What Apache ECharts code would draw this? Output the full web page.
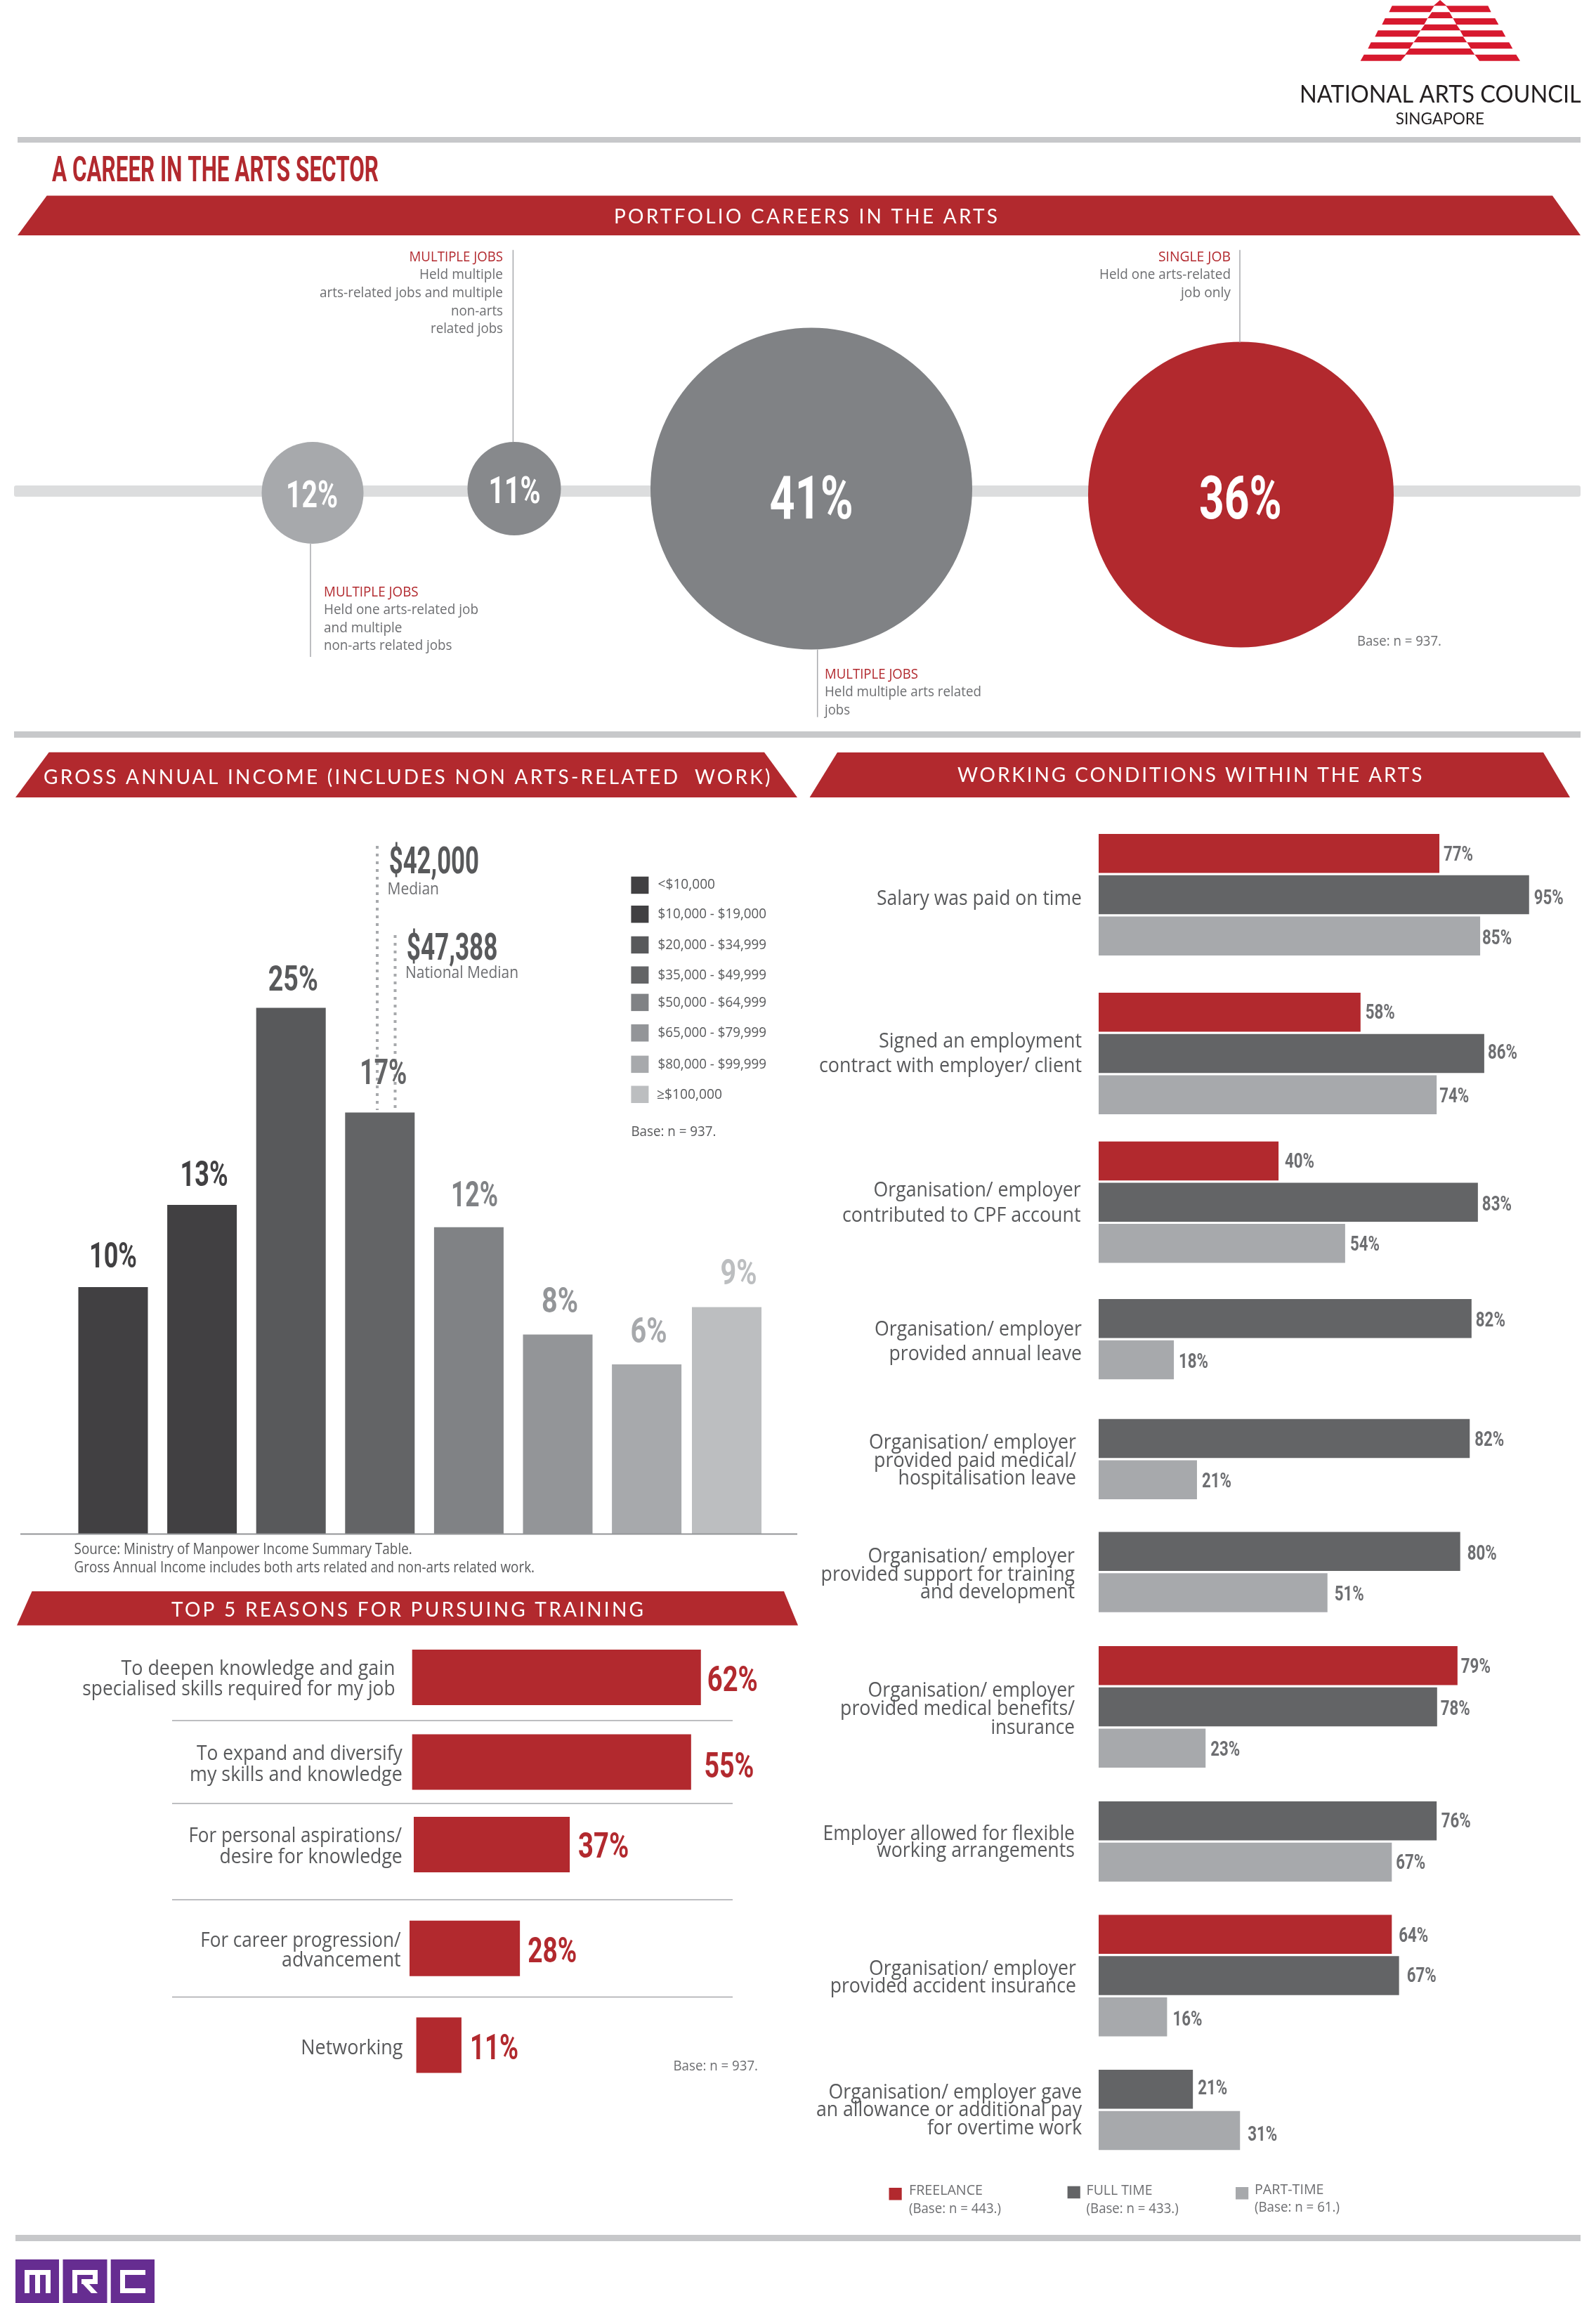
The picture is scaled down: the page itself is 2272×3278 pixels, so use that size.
<!DOCTYPE html>
<html><head><meta charset="utf-8">
<script src="https://cdn.jsdelivr.net/npm/echarts@6/dist/echarts.min.js"></script>
<style>html,body{margin:0;padding:0;background:#fff}#c{width:2272px;height:3278px}</style>
</head><body><div id="c"></div>
<script>
// ---------- DATA ----------
// Bar lengths are read off the picture (the original artwork is not strictly proportional);
// the printed percentages are kept separately.
const portfolioShares = [12, 11, 41, 36];
const incomeBands = ['<$10,000','$10,000 - $19,000','$20,000 - $34,999','$35,000 - $49,999','$50,000 - $64,999','$65,000 - $79,999','$80,000 - $99,999','≥$100,000'];
const incomeDrawn = [9.9, 13.2, 21.1, 16.9, 12.3, 8.0, 6.8, 9.1];
const incomePrinted = [10, 13, 25, 17, 12, 8, 6, 9];
const reasonNames = ['To deepen knowledge and gain\nspecialised skills required for my job','To expand and diversify\nmy skills and knowledge','For personal aspirations/\ndesire for knowledge','For career progression/\nadvancement','Networking'];
const reasonDrawn = [62, 59.9, 33.5, 23.7, 9.7];
const reasonPrinted = [62, 55, 37, 28, 11];
const conditionNames = ['Salary was paid on time','Signed an employment\ncontract with employer/ client','Organisation/ employer\ncontributed to CPF account','Organisation/ employer\nprovided annual leave','Organisation/ employer\nprovided paid medical/\nhospitalisation leave','Organisation/ employer\nprovided support for training\nand development','Organisation/ employer\nprovided medical benefits/\ninsurance','Employer allowed for flexible\nworking arrangements','Organisation/ employer\nprovided accident insurance','Organisation/ employer gave\nan allowance or additional pay\nfor overtime work'];
const freelanceDrawn = [75.2,57.8,39.7,null,null,null,79.2,null,64.7,null];
const fullTimeDrawn  = [95,85.1,83.7,82.3,81.9,79.8,74.7,74.6,66.3,20.8];
const partTimeDrawn  = [84.2,74.6,54.4,16.6,21.7,50.5,23.6,64.7,15.1,31.2];
const freelancePrinted = [77,58,40,null,null,null,79,null,64,null];
const fullTimePrinted  = [95,86,83,82,82,80,78,76,67,21];
const partTimePrinted  = [85,74,54,18,21,51,23,67,16,31];
const workTypes = ['FREELANCE','FULL TIME','PART-TIME'];

// ---------- STYLE / LAYOUT ----------
const RED='#b2292e', DARK='#636466', LIGHT='#a7a9ac', TXT='#58595b', TXT2='#6d6e71', RULE='#c7c8ca';
const NARROW='"Liberation Sans Narrow","Roboto","Liberation Sans",sans-serif';
const BODY='"Open Sans","Noto Sans",sans-serif';
const HEAD='"Lato","Open Sans",sans-serif';
const incomeColors=['#414042','#414042','#58595b','#636466','#808285','#939598','#a7a9ac','#bcbec0'];
const workColors=[RED,DARK,LIGHT];

const bubbleX=[445,732,1155,1766.5], bubbleY=[701.5,695.5,695.5,704], bubbleD=[145,133,458,435];
const bubbleColors=['#a7a9ac','#87898c','#808285',RED];
const bubbleLabel=[[407,481,703.5,54],[695.6,769.6,697,54],[1095.6,1214.5,707.5,86],[1707,1824.6,707.5,86]];

const incomeDx=[0,3,3,5,8,3,3,17], incomeDy=[-45.5,-44.6,-42.4,-58,-47,-49,-49,-50], incomeW=[68,68,71,67,67,52,52,52];
const reasonTop=[2348,2468.4,2586,2733.8,2871.5], reasonLeft=[586.7,586.7,589,583,592.6];
const reasonDx=[9,18.6,12,11,12], reasonDy=[2,5,1,2.5,2], reasonW=[72,71,72,70,69];
const reasonLines=[[[172.4,562.5,2374.4],[117.3,562.5,2403.5]],[[280,572.8,2495.5],[270,572.8,2525]],[[268.4,572,2612.7],[312.4,572.8,2642.5]],[[285.3,570.6,2761],[401,570.6,2789.5]],[[428.3,573.5,2914]]];
const groupTop=[1187,1413,1624.7,1849,2019.7,2180.6,2343,2564,2725.6,2946];
const groupLines=[
 [[1248,1540,1278]],
 [[1251,1540,1481.6],[1166,1540,1516.7]],
 [[1243.6,1538.6,1693.5],[1199,1538.6,1729]],
 [[1245,1540,1891],[1265.5,1540,1926]],
 [[1237,1532,2052],[1244,1532,2078],[1278.6,1532,2103]],
 [[1235.6,1530,2214],[1168.6,1530,2240],[1310,1530,2265.5]],
 [[1235.6,1530,2405.6],[1196,1530,2431],[1410.4,1530,2458]],
 [[1171.5,1530,2609],[1248,1530,2633.5]],
 [[1237,1532,2801],[1181.7,1532,2826.5]],
 [[1179.5,1540,2977.4],[1162,1540,3002],[1320,1540,3028]]];
const freeOff=[[6,0],[7,-1],[9,-1],null,null,null,[5,0],null,[10,0],null];
const fullOff=[[7,3],[5,-2.5],[6,1],[6,1],[7,0],[10,1],[5,1.5],[6.5,-1.5],[11,-1.5],[7,-3]];
const partOff=[[3,1],[4,0],[7,0],[7,1],[7,0],[10,0],[7,0],[6,-1],[8,2],[11,4.5]];

// ---------- TEXT HELPERS ----------
const mctx=document.createElement('canvas').getContext('2d');
const natural=(s,font)=>{mctx.font=font;return mctx.measureText(s).width;};
function T(str,l,r,yc,size,color,family,weight,z){
  const fam=family||BODY;
  const font=`${weight||400} ${size}px ${fam}`;
  const shift=size*(fam===NARROW?0.1:0.05);
  return {type:'text',x:l,y:yc+shift,scaleX:(r-l)/natural(str,font),z:z||20,silent:true,
    style:{text:str,fill:color||TXT,font,align:'left',verticalAlign:'middle',textAlign:'left',textVerticalAlign:'middle'}};
}
// letter-spaced banner titles: real text, canvas letterSpacing applied when it is painted
const spacing=new Map();
const _fill=CanvasRenderingContext2D.prototype.fillText;
CanvasRenderingContext2D.prototype.fillText=function(t,x,y,m){
  const sp=spacing.get(t);
  if(sp!==undefined){this.letterSpacing=sp+'px';}
  m===undefined?_fill.call(this,t,x,y):_fill.call(this,t,x,y,m);
  if(sp!==undefined){this.letterSpacing='0px';}
};
function H(str,l,r,yc,size){
  const font=`400 ${size}px ${HEAD}`;
  spacing.set(str,((r-l)-natural(str,font))/(str.length-1));
  return {type:'text',x:l,y:yc+0.5,z:20,silent:true,style:{text:str,fill:'#fff',font,align:'left',verticalAlign:'middle',textAlign:'left',textVerticalAlign:'middle'}};
}
const poly=(pts,fill,z)=>({type:'polygon',z:z||1,silent:true,shape:{points:pts},style:{fill}});
const rect=(x,y,w,h,fill,z,r)=>({type:'rect',z:z||1,silent:true,shape:{x,y,width:w,height:h,r:r||0},style:{fill}});
const line=(x1,y1,x2,y2,stroke,w,dash)=>({type:'line',z:3,silent:true,shape:{x1,y1,x2,y2},style:{stroke,lineWidth:w||1.5,lineDash:dash||null}});

// ---------- CHART ----------
const grids=[],xAxes=[],yAxes=[],series=[];
function addHorizontal(left,top,pxPerUnit,cats,rowH,barH,vals,colors,name){
  const g=grids.length;
  grids.push({left,top,width:pxPerUnit*100,height:rowH*cats.length,containLabel:false});
  xAxes.push({gridIndex:g,type:'value',min:0,max:100,show:false});
  yAxes.push({gridIndex:g,type:'category',data:cats,inverse:true,show:false});
  series.push({type:'bar',name,xAxisIndex:g,yAxisIndex:g,barWidth:barH,animation:false,silent:true,
    data:vals.map((v,i)=>({value:v,itemStyle:{color:colors[i]}}))});
  return g;
}
function addVertical(left,width,top,height,max,cats,barW,vals,colors,name){
  const g=grids.length;
  grids.push({left,top,width,height,containLabel:false});
  xAxes.push({gridIndex:g,type:'category',data:cats,show:false});
  yAxes.push({gridIndex:g,type:'value',min:0,max,show:false});
  series.push({type:'bar',name,xAxisIndex:g,yAxisIndex:g,barWidth:barW,animation:false,silent:true,
    data:vals.map((v,i)=>({value:v,itemStyle:{color:colors[i]}}))});
  return g;
}
// bubbles
const gB=grids.length;
grids.push({left:0,top:0,width:2272,height:3278});
xAxes.push({gridIndex:gB,type:'value',min:0,max:2272,show:false});
yAxes.push({gridIndex:gB,type:'value',min:0,max:3278,inverse:true,show:false});
series.push({type:'scatter',name:'Portfolio careers',xAxisIndex:gB,yAxisIndex:gB,animation:false,silent:true,
  data:portfolioShares.map((v,i)=>({value:[bubbleX[i],bubbleY[i],v],symbolSize:bubbleD[i],itemStyle:{color:bubbleColors[i],opacity:1}}))});
// income: seven evenly spaced bars plus the last one, set slightly closer
const SLOT=126.6, INC_TOP=1296, INC_H=887.5;
const gI1=addVertical(97.7,SLOT*7,INC_TOP,INC_H,25,incomeBands.slice(0,7),99,incomeDrawn.slice(0,7),incomeColors.slice(0,7),'Income');
const gI2=addVertical(971.2,SLOT,INC_TOP,INC_H,25,incomeBands.slice(7),99,incomeDrawn.slice(7),incomeColors.slice(7),'Income (top band)');
// reasons
const gR=reasonNames.map((n,i)=>addHorizontal(reasonLeft[i],reasonTop[i],6.63,[n],79,79,[reasonDrawn[i]],[RED],n));
// working conditions
const ROW=58.7,BAR=55.5;
const gW=conditionNames.map((n,i)=>{
  const src=[freelanceDrawn[i],fullTimeDrawn[i],partTimeDrawn[i]];
  const idx=[0,1,2].filter(k=>src[k]!==null);
  return {g:addHorizontal(1564,groupTop[i]-(ROW-BAR)/2,6.45,idx.map(k=>workTypes[k]),ROW,BAR,idx.map(k=>src[k]),idx.map(k=>workColors[k]),n),idx};
});

const chart=echarts.init(document.getElementById('c'),null,{renderer:'canvas'});
chart.setOption({backgroundColor:'#fff',animation:false,tooltip:{show:false},legend:{show:false},grid:grids,xAxis:xAxes,yAxis:yAxes,series});

// ---------- ANNOTATIONS ----------
const el=[];
// NAC logo (source units: 3x crop)
const LG='#d7192e', lg=pts=>poly(pts.map(p=>[1800+p[0]/3,p[1]/3]),LG,2);
[[[545,25],[725,25],[708,52],[532,52]],[[775,25],[955,25],[968,52],[795,52]],[[722,25],[750,0],[778,25]],
 [[515,78],[697,78],[682,105],[502,105]],[[805,78],[985,78],[1000,105],[820,105]],[[697,78],[715,52],[790,52],[805,78]],
 [[485,130],[667,130],[650,157],[472,157]],[[835,130],[1015,130],[1030,157],[850,157]],[[667,130],[685,104],[820,104],[837,130]],
 [[455,181],[637,181],[620,208],[442,208]],[[865,181],[1045,181],[1060,208],[882,208]],[[637,181],[655,156],[848,156],[865,181]],
 [[425,233],[605,233],[582,260],[410,260]],[[898,233],[1075,233],[1092,260],[918,260]],[[600,233],[620,207],[880,207],[898,233]]
].forEach(p=>el.push(lg(p)));
el.push(T('NATIONAL ARTS COUNCIL',1850,2250.7,132.7,35,'#231f20',HEAD));
el.push(T('SINGAPORE',1986.7,2113,168,23,'#231f20',HEAD));
// rules
el.push(rect(25,195,2225,8,RULE),rect(20,1041,2230,9,RULE),rect(22,3181,2228,9,RULE));
el.push(T('A CAREER IN THE ARTS SECTOR',74,539,240,50,RED,NARROW,700));
// banners
el.push(poly([[66.7,278.5],[2210,278.5],[2250,335],[25,335]],RED));
el.push(H('PORTFOLIO CAREERS IN THE ARTS',874,1420,308.7,28));
el.push(poly([[69.7,1070.7],[1088,1070.7],[1135,1135],[22,1135]],RED));
el.push(H('GROSS ANNUAL INCOME (INCLUDES NON ARTS-RELATED  WORK)',62,1096.5,1106,28));
el.push(poly([[1192,1071],[2197,1071],[2235,1135],[1152.6,1135]],RED));
el.push(H('WORKING CONDITIONS WITHIN THE ARTS',1363,2024.4,1103.5,28));
el.push(poly([[45.5,2265],[1116,2265],[1136,2313.5],[24,2313.5]],RED));
el.push(H('TOP 5 REASONS FOR PURSUING TRAINING',244,916,2291,28));
// timeline + leaders
el.push(rect(20,691,2230,16,'#dcddde',1,3));
el.push(line(730.4,355.7,730.4,629,LIGHT),line(1765,355.7,1765,487.5,LIGHT),line(442,774,442,935,LIGHT),line(1163.7,924.6,1163.7,1020.7,LIGHT));
portfolioShares.forEach((v,i)=>{const b=bubbleLabel[i];
  el.push(T(v+'%',b[0],b[1],b[2],b[3],'#fff',NARROW,700,30));});
[['MULTIPLE JOBS',582.6,716,364.8,RED],['Held multiple',597,716,390.7],['arts-related jobs and multiple',455,716,416],['non-arts',642,716,442],['related jobs',613,716,467],
 ['SINGLE JOB',1649,1752,364.8,RED],['Held one arts-related',1565,1752,390.7],['job only',1681,1752,416],
 ['MULTIPLE JOBS',461,595.6,841.8,RED],['Held one arts-related job',461,681,867],['and multiple',461,572.5,893],['non-arts related jobs',461,643.5,918],
 ['MULTIPLE JOBS',1174,1307,959,RED],['Held multiple arts related',1174,1397,984],['jobs',1174,1210,1010],
 ['Base: n = 937.',1932,2052,912]
].forEach(t=>el.push(T(t[0],t[1],t[2],t[3],20,t[4]||TXT2)));
// income annotations
el.push(line(537,1204,537,1580,LIGHT,4,[4,7]),line(562.5,1331,562.5,1580,LIGHT,4,[4,7]));
el.push(T('$42,000',553.7,682,1224.5,54,TXT,NARROW,700),T('Median',551.5,625,1265,23,TXT2),
        T('$47,388',578.7,708.5,1347,54,TXT,NARROW,700),T('National Median',577,738,1384.5,23,TXT2));
const legY=[1259.7,1301,1344.7,1387.5,1426.6,1470,1514.6,1557.5];
const legR=[1018,1091,1091,1091,1091,1091,1091,1028];
incomeBands.forEach((b,i)=>{
  el.push(rect(898.4,legY[i]-12,25,24.5,incomeColors[i]));
  el.push(T(b,i==7?935:936.6,legR[i],legY[i]-(i==0?1.5:0.5),20,TXT));
});
el.push(T('Base: n = 937.',898.4,1019.4,1610,20,TXT));
el.push(line(29,2183.5,1135,2183.5,'#939598',2));
el.push(T('Source: Ministry of Manpower Income Summary Table.',105.6,586.7,2205,21,TXT));
el.push(T('Gross Annual Income includes both arts related and non-arts related work.',105.6,761,2231,21,TXT));
// income value labels
incomeDrawn.forEach((v,i)=>{
  const g=i<7?gI1:gI2, cat=i<7?i:0;
  const p=chart.convertToPixel({xAxisIndex:g,yAxisIndex:g},[cat,v]);
  const c=p[0]+incomeDx[i], w=incomeW[i];
  el.push(T(incomePrinted[i]+'%',c-w/2,c+w/2,p[1]+incomeDy[i],50,incomeColors[i],NARROW,700));
});
// reasons
[2449,2567,2704,2842.4].forEach(y=>el.push(line(245,y,1043,y,LIGHT)));
reasonNames.forEach((n,i)=>{
  n.split('\n').forEach((s,k)=>{const l=reasonLines[i][k];el.push(T(s,l[0],l[1],l[2],29,TXT));});
  const p=chart.convertToPixel({xAxisIndex:gR[i],yAxisIndex:gR[i]},[reasonDrawn[i],0]);
  const x=p[0]+reasonDx[i];
  el.push(T(reasonPrinted[i]+'%',x,x+reasonW[i],p[1]+reasonDy[i],50,RED,NARROW,700));
});
el.push(T('Base: n = 937.',958.5,1079,2940,20,TXT2));
// working conditions
const printed=[freelancePrinted,fullTimePrinted,partTimePrinted], offs=[freeOff,fullOff,partOff];
conditionNames.forEach((n,i)=>{
  n.split('\n').forEach((s,k)=>{const l=groupLines[i][k];el.push(T(s,l[0],l[1],l[2],29,TXT));});
  const w=gW[i];
  w.idx.forEach((k,row)=>{
    const val=[freelanceDrawn,fullTimeDrawn,partTimeDrawn][k][i];
    const p=chart.convertToPixel({xAxisIndex:w.g,yAxisIndex:w.g},[val,row]);
    const o=offs[k][i], x=p[0]+o[0];
    el.push(T(printed[k][i]+'%',x,x+42,p[1]+o[1],30,TXT2,NARROW,700));
  });
});
// work-type legend
[[1265.5,3114,RED],[1519.6,3111.7,DARK],[1759,3113,LIGHT]].forEach(s=>el.push(rect(s[0],s[1],18.2,17.5,s[2])));
[['FREELANCE',1294,1399,3117.5],['(Base: n = 443.)',1294,1425,3143.6],['FULL TIME',1546.6,1640.6,3117.5],['(Base: n = 433.)',1546.6,1677.7,3143.6],['PART-TIME',1786,1884.5,3116],['(Base: n = 61.)',1786,1907,3141.5]]
 .forEach(t=>el.push(T(t[0],t[1],t[2],t[3],20,TXT2)));
// MRC logo
const PUR='#662d91';
el.push(rect(22,3216,62,62,PUR),rect(89.5,3216,63,62,PUR),rect(157.7,3216,62.3,62,PUR));
[[35,3231,37,7],[35,3231,7,33],[50,3231,7,33],[65,3231,7,33],
 [103,3231,36,7],[103,3231,7,33],[132,3231,7,20],[116,3244,23,7],
 [171,3231,36,7],[171,3231,7,33],[171,3257,36,7]].forEach(r=>el.push(rect(r[0],r[1],r[2],r[3],'#fff',4)));
el.push(poly([[118,3251],[127,3251],[139,3264],[130,3264]],'#fff',4));
chart.setOption({graphic:{elements:el}});
</script></body></html>
